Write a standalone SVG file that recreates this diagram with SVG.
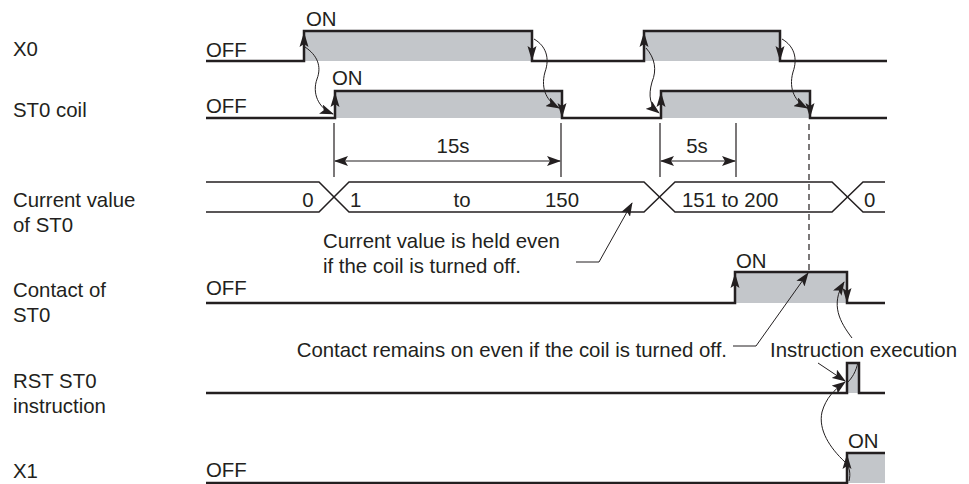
<svg xmlns="http://www.w3.org/2000/svg" width="969" height="484" viewBox="0 0 969 484">
<style>
text{font-family:"Liberation Sans",Arial,sans-serif;font-size:20.4px;fill:#231f20}
.sig{fill:none;stroke:#231f20;stroke-width:2.5}
.bus{fill:none;stroke:#231f20;stroke-width:1.5}
.on{fill:#c3c6ca;stroke:none}
.thin{fill:none;stroke:#231f20;stroke-width:1}
.lead{fill:none;stroke:#231f20;stroke-width:1;marker-end:url(#ah)}
.dim{fill:none;stroke:#231f20;stroke-width:1.2}
.dash{fill:none;stroke:#231f20;stroke-width:1.2;stroke-dasharray:6 4}
.c{text-anchor:middle}
.e{text-anchor:end}
</style>
<defs>
<marker id="ah" viewBox="0 0 14 10" refX="13" refY="5" markerWidth="14" markerHeight="10" markerUnits="userSpaceOnUse" orient="auto">
<path d="M0,0 L14,5 L0,10 L3,5 Z" fill="#231f20"/>
</marker>
<marker id="da" viewBox="0 0 14 10" refX="13" refY="5" markerWidth="14" markerHeight="10" markerUnits="userSpaceOnUse" orient="auto-start-reverse">
<path d="M0,0 L14,5 L0,10 L3,5 Z" fill="#231f20"/>
</marker>
<path id="up" d="M0,0 L-4.5,15 L0,12 L4.5,15 Z" fill="#231f20"/>
<path id="dn" d="M0,0 L-4.5,-15 L0,-12 L4.5,-15 Z" fill="#231f20"/>
</defs>
<rect width="969" height="484" fill="#fff"/>

<g id="labels">
<text x="13" y="56">X0</text>
<text x="13" y="117">ST0 coil</text>
<text x="13" y="207">Current value</text>
<text x="13" y="232">of ST0</text>
<text x="13" y="297">Contact of</text>
<text x="13" y="322">ST0</text>
<text x="13" y="388">RST ST0</text>
<text x="13" y="413">instruction</text>
<text x="13" y="478">X1</text>
</g>

<g id="x0">
<rect class="on" x="304" y="31" width="228" height="30"/>
<rect class="on" x="644" y="31" width="136" height="30"/>
<path class="sig" d="M206,61 H304 V31 H532 V61 H644 V31 H780 V61 H887"/>
<text x="206" y="57">OFF</text>
<text x="306" y="26">ON</text>
</g>

<g id="st0coil">
<rect class="on" x="335" y="91" width="227" height="27"/>
<rect class="on" x="661" y="91" width="149" height="27"/>
<path class="sig" d="M206,118 H335 V91 H562 V118 H661 V91 H810 V118 H887"/>
<text x="206" y="113">OFF</text>
<text x="332" y="85">ON</text>
</g>

<g id="current-value">
<path class="bus" d="M206,182 H319 L349,212 H644 L675,182 H832 L863,212 H885"/>
<path class="bus" d="M206,212 H319 L349,182 H644 L675,212 H832 L863,182 H885"/>
<text class="c" x="308" y="207">0</text>
<text x="350" y="207">1</text>
<text class="c" x="462" y="207">to</text>
<text class="c" x="562" y="207">150</text>
<text x="682" y="207">151 to 200</text>
<text x="864" y="207">0</text>
</g>

<g id="dimensions">
<path class="dim" d="M334,123 V177 M561,123 V177 M660,123 V177 M736,123 V177"/>
<path class="dim" d="M335,161 H560" marker-start="url(#da)" marker-end="url(#da)"/>
<path class="dim" d="M661,161 H735" marker-start="url(#da)" marker-end="url(#da)"/>
<text class="c" x="453" y="153">15s</text>
<text class="c" x="697" y="153">5s</text>
<path class="dash" d="M809,124 V272"/>
</g>

<g id="contact">
<rect class="on" x="735" y="272" width="112" height="31"/>
<path class="sig" d="M206,303 H735 V272 H847 V303 H885"/>
<text x="206" y="295">OFF</text>
<text x="736" y="268">ON</text>
</g>

<g id="rst">
<rect class="on" x="847" y="363" width="12" height="30"/>
<path class="sig" d="M206,393 H847 V363 H859 V393 H885"/>
</g>

<g id="x1">
<rect class="on" x="847" y="453" width="38" height="30"/>
<path class="sig" d="M206,483 H847 V453 H885"/>
<text x="206" y="477">OFF</text>
<text x="848" y="448">ON</text>
</g>

<g id="notes">
<text x="323" y="248">Current value is held even</text>
<text x="323" y="273">if the coil is turned off.</text>
<text class="e" x="727" y="357">Contact remains on even if the coil is turned off.</text>
<text x="770" y="357">Instruction execution</text>
</g>

<g id="connectors">
<use href="#up" x="304" y="32"/>
<use href="#up" x="644" y="32"/>
<use href="#up" x="335" y="92"/>
<use href="#up" x="661" y="92"/>
<use href="#up" x="735" y="273"/>
<use href="#up" x="847" y="454"/>
<use href="#dn" x="532" y="61"/>
<use href="#dn" x="780" y="61"/>
<use href="#dn" x="562" y="118"/>
<use href="#dn" x="810" y="118"/>
<use href="#dn" x="847" y="303"/>
<path class="lead" d="M305,47 C317,55 322,66 317,79 C312,93 318,108 333,114"/>
<path class="lead" d="M534,39 C546,46 550,58 545,72 C540,90 548,102 559,108"/>
<path class="lead" d="M646,48 C655,58 657,70 652,82 C648,96 650,106 659,113"/>
<path class="lead" d="M782,39 C794,46 798,58 793,72 C788,90 796,102 807,108"/>
<path class="lead" d="M576,262 H599 L632,203"/>
<path class="lead" d="M733,346 H756 L808,273"/>
<path class="lead" d="M852,338 C840,322 830,305 844,282"/>
<path class="lead" d="M818,363 L845,381"/>
<path class="thin" d="M858,362 C856,372 852,378 847,383"/>
<path class="lead" d="M845,462 C830,448 818,430 822,412 C826,398 834,390 845,382"/>
<path class="thin" d="M849,481 C851,473 849,468 847,464"/>
</g>
</svg>
